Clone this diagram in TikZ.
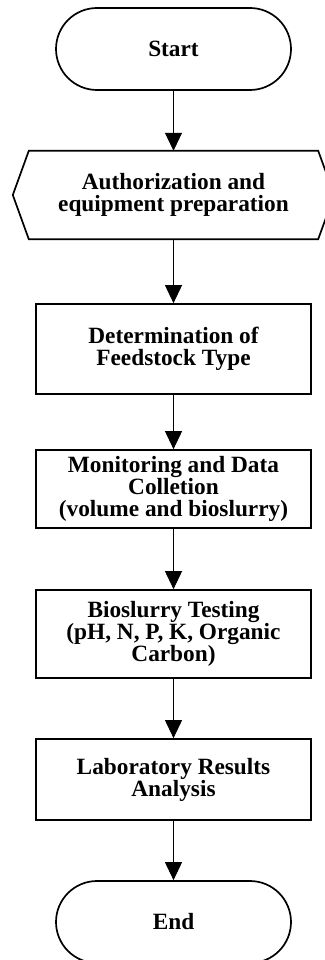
\documentclass[tikz,border=0pt]{standalone}
\usepackage{fontspec}
\setmainfont{Liberation Serif}
\usetikzlibrary{arrows.meta,calc}

\begin{document}
\begin{tikzpicture}[x=1pt,y=-1pt,
  lbl/.style={font=\fontsize{23.3}{22}\selectfont\bfseries, align=center, inner sep=0pt},
  term/.style={lbl, draw, line width=1.7pt, minimum width=235pt, minimum height=82pt, rounded corners=41pt},
  procbox/.style={lbl, draw, line width=1.7pt, minimum width=275pt},
  flow/.style={line width=0.9pt, -{Triangle[length=18pt,width=17pt]}}
]
\useasboundingbox (0,0) rectangle (324,960);

% terminators
\node[term] (start) at (173.5,49) {Start};
\node[term] (finish) at (173.5,922) {End};

% preparation step (hexagon drawn around a plain text node)
\node[lbl, minimum width=289pt, minimum height=88pt] (prep) at (173.5,195)
  {Authorization and\\equipment preparation};
\draw[line width=1.7pt, line join=miter]
  (prep.north west) -- (prep.north east) -- ($(prep.east)+(16,0)$)
  -- (prep.south east) -- (prep.south west) -- ($(prep.west)+(-16,0)$) -- cycle;

% process steps
\node[procbox, minimum height=90pt] (feed) at (173.5,349) {Determination of\\Feedstock Type};
\node[procbox, minimum height=78pt] (mon) at (173.5,489) {Monitoring and Data\\Colletion\\(volume and bioslurry)};
\node[procbox, minimum height=88pt] (test) at (173.5,634) {Bioslurry Testing\\(pH, N, P, K, Organic\\Carbon)};
\node[procbox, minimum height=81pt] (lab) at (173.5,779.5) {Laboratory Results\\Analysis};

% connectors
\draw[flow] (start) -- (prep.north);
\draw[flow] (prep.south) -- (feed);
\draw[flow] (feed) -- (mon);
\draw[flow] (mon) -- (test);
\draw[flow] (test) -- (lab);
\draw[flow] (lab) -- (finish);
\end{tikzpicture}
\end{document}
